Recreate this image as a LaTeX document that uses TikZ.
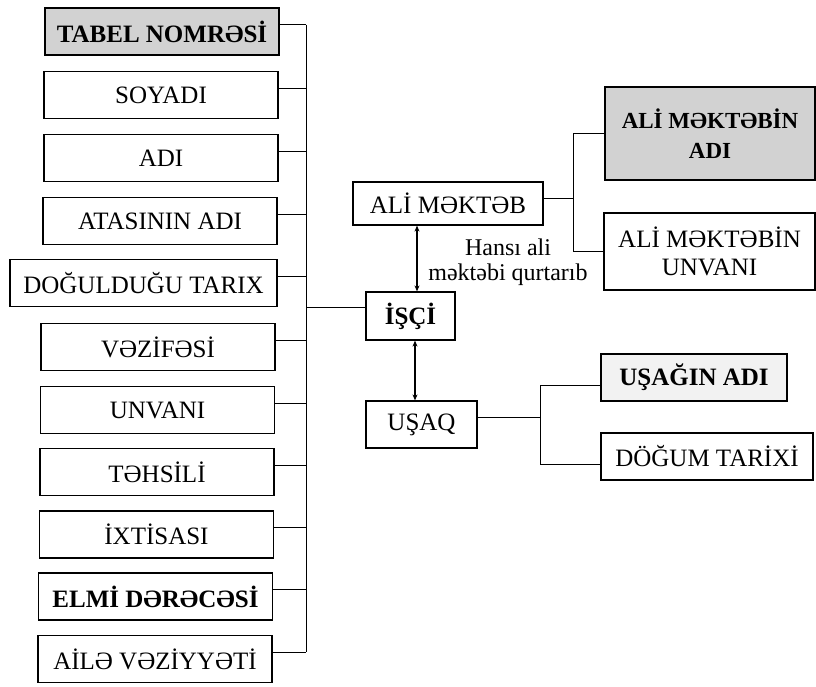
\documentclass[tikz,border=0pt]{standalone}
\usepackage{fontspec}
\setmainfont{Liberation Serif}
\usetikzlibrary{arrows.meta}
\tikzset{
  attr box/.style={
    draw, line width=1.2pt,
    minimum width=234pt, minimum height=47pt,
    inner sep=2pt, align=center,
    font=\fontsize{25}{28}\selectfont
  },
  key box/.style={attr box, font=\fontsize{25}{28}\selectfont\bfseries},
  grey fill/.style={fill=gray!35},
  bus line/.style={line width=1pt},
  rel arrow/.style={
    {Stealth[length=6pt,width=5pt]}-{Stealth[length=6pt,width=5pt]},
    line width=1.2pt
  }
}

\begin{document}
\begin{tikzpicture}[x=1pt, y=-1pt]
  \useasboundingbox (0,0) rectangle (816,686);

  % Attributes of the employee
  \node[key box, grey fill] (tabel) at (162,31.5) {TABEL NOMRƏSİ};
  \node[attr box] (soyadi) at (161,95) {SOYADI};
  \node[attr box] (adi) at (161,158) {ADI};
  \node[attr box] (ata) at (160,221) {ATASININ ADI};
  \node[attr box, minimum width=267pt] (dogum) at (143.5,283) {DOĞULDUĞU TARIX};
  \node[attr box] (vezife) at (158,347) {VƏZİFƏSİ};
  \node[attr box] (unvan) at (157.5,410) {UNVANI};
  \node[attr box] (tehsil) at (157,472) {TƏHSİLİ};
  \node[attr box] (ixtisas) at (156.5,534.5) {İXTİSASI};
  \node[key box] (elmi) at (155.5,596.5) {ELMİ DƏRƏCƏSİ};
  \node[attr box] (aile) at (155,659) {AİLƏ VƏZİYYƏTİ};

  % Entities
  \node[key box, minimum width=89pt, minimum height=48pt] (isci) at (410.5,316) {İŞÇİ};
  \node[attr box, minimum width=190pt, minimum height=43pt] (alimek) at (448,203.5) {ALİ MƏKTƏB};
  \node[attr box, minimum width=111pt] (usaq) at (421.5,424.5) {UŞAQ};

  % Attributes of the school and the child
  \node[key box, grey fill, minimum width=210pt, minimum height=93pt,
        font=\fontsize{23}{30}\selectfont\bfseries] (aliadi) at (710,133.5) {ALİ MƏKTƏBİN\\ADI};
  \node[attr box, minimum width=211pt, minimum height=77pt] (aliunv) at (709.5,251.5) {ALİ MƏKTƏBİN\\UNVANI};
  \node[key box, fill=gray!10, minimum width=186pt] (usadi) at (694,377.5) {UŞAĞIN ADI};
  \node[attr box, minimum width=212pt] (ustarix) at (707,456.5) {DÖĞUM TARİXİ};

  % Bus lines
  \coordinate (lbus) at (306,0);
  \coordinate (abus) at (573,0);
  \coordinate (ubus) at (540,0);

  \draw[bus line] ([yshift=7pt]tabel.east) -- ([yshift=7pt]tabel.east -| lbus);
  \draw[bus line] ([yshift=7pt]soyadi.east) -- ([yshift=7pt]soyadi.east -| lbus);
  \draw[bus line] ([yshift=7pt]adi.east) -- ([yshift=7pt]adi.east -| lbus);
  \draw[bus line] ([yshift=7pt]ata.east) -- ([yshift=7pt]ata.east -| lbus);
  \draw[bus line] ([yshift=7pt]dogum.east) -- ([yshift=7pt]dogum.east -| lbus);
  \draw[bus line] ([yshift=7pt]vezife.east) -- ([yshift=7pt]vezife.east -| lbus);
  \draw[bus line] ([yshift=7pt]unvan.east) -- ([yshift=7pt]unvan.east -| lbus);
  \draw[bus line] ([yshift=7pt]tehsil.east) -- ([yshift=7pt]tehsil.east -| lbus);
  \draw[bus line] ([yshift=7pt]ixtisas.east) -- ([yshift=7pt]ixtisas.east -| lbus);
  \draw[bus line] ([yshift=7pt]elmi.east) -- ([yshift=7pt]elmi.east -| lbus);
  \draw[bus line] ([yshift=7pt]aile.east) -- ([yshift=7pt]aile.east -| lbus);
  \draw[bus line] ([yshift=7pt]tabel.east -| lbus) -- ([yshift=7pt]aile.east -| lbus);
  \draw[bus line] ([yshift=9pt]isci.west) -- ([yshift=9pt]isci.west -| lbus);

  \draw[bus line] ([yshift=5pt]alimek.east) -- ([yshift=5pt]alimek.east -| abus);
  \draw[bus line] (aliadi.west) -- (aliadi.west -| abus) -- (aliunv.west -| abus) -- (aliunv.west);

  \draw[bus line] ([yshift=7pt]usaq.east) -- ([yshift=7pt]usaq.east -| ubus);
  \draw[bus line] ([yshift=-8pt]usadi.west) -- ([yshift=-8pt]usadi.west -| ubus)
    -- ([yshift=-8pt]ustarix.west -| ubus) -- ([yshift=-8pt]ustarix.west);

  % Relationships
  \draw[rel arrow] ([xshift=6.5pt]isci.north) -- ([xshift=6.5pt]isci.north |- alimek.south);
  \draw[rel arrow] ([xshift=4.5pt]isci.south) -- ([xshift=4.5pt]isci.south |- usaq.north);
  \node[align=center, font=\fontsize{24}{25}\selectfont] (hansi) at (508,262) {Hansı ali\\məktəbi qurtarıb};
\end{tikzpicture}
\end{document}
